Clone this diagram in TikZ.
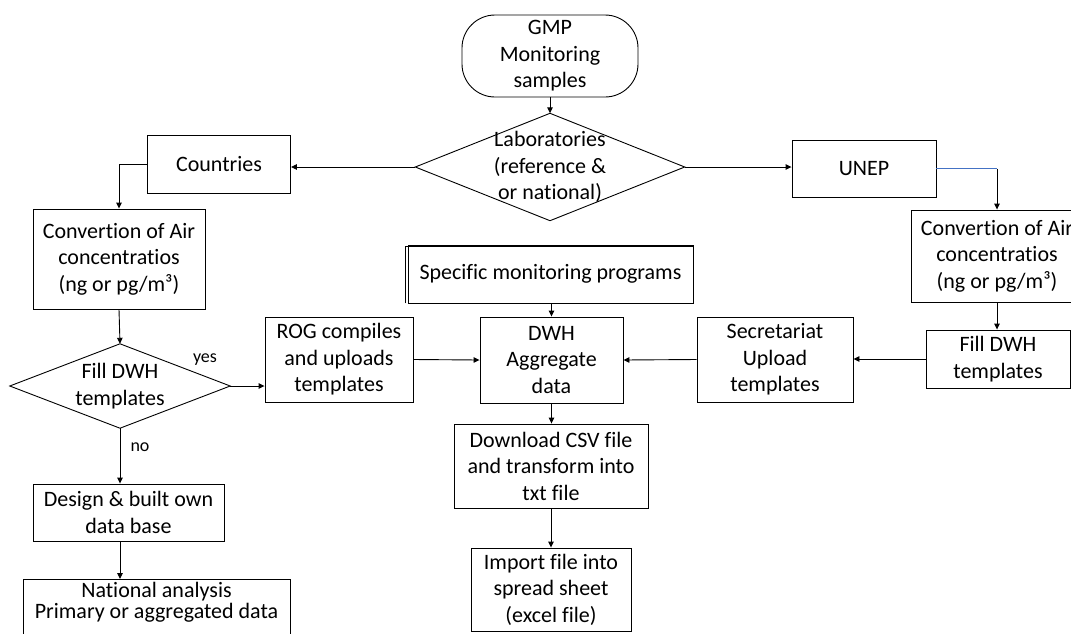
\documentclass[tikz,border=0pt]{standalone}
\usepackage{fontspec}
\setmainfont{Carlito}[RawFeature=-liga]
\usetikzlibrary{arrows.meta}
\begin{document}
\fontsize{22pt}{26.5pt}\selectfont
\begin{tikzpicture}[x=1pt,y=-1pt,
  box/.style={draw=black, line width=0.9pt, rectangle, inner sep=0pt, align=center},
  plain/.style={inner sep=0pt, align=center},
  arr/.style={draw=black, line width=0.9pt, -{Triangle[length=6pt,width=5.5pt]}},
  lbl/.style={inner sep=0pt, font=\fontsize{18pt}{20pt}\selectfont}]
\useasboundingbox (0,0) rectangle (1071,633);
\clip (0,0) rectangle (1071,633);

% start terminator
\node[box, rounded corners=33pt, minimum width=176pt, minimum height=82pt] (gmp) at (550,56) {GMP\\Monitoring\\samples};

% laboratory decision
\node[plain, minimum width=269pt, minimum height=107pt] (lab) at (550,167) {Laboratories\\(reference \&\\or national)};
\draw[line width=0.9pt] (lab.west) -- (lab.north) -- (lab.east) -- (lab.south) -- cycle;

% left branch
\node[box, minimum width=143pt, minimum height=58pt] (countries) at (219,164) {Countries};
\node[box, minimum width=172pt, minimum height=100pt] (convL) at (119,259) {Convertion of Air\\concentratios\\(ng or pg/m³)};
\node[plain, minimum width=220pt, minimum height=84pt] (fillL) at (120,386) {Fill DWH\\templates};
\draw[line width=0.9pt] (fillL.west) -- (fillL.north) -- (fillL.east) -- (fillL.south) -- cycle;
\node[box, minimum width=191pt, minimum height=57pt] (design) at (128.5,512.5) {Design \& built own\\data base};
\node[box, anchor=north, minimum width=267pt, inner sep=3pt, text depth=22pt, font=\fontsize{22pt}{21pt}\selectfont] (national) at (156.5,579) {National analysis\\Primary or aggregated data};

% middle column
\node[box, minimum width=148pt, minimum height=85pt] (rog) at (339,359.5) {ROG compiles\\and uploads\\templates};
\node[box, minimum width=285pt, minimum height=58pt] (spec) at (550.5,274) {Specific monitoring programs};
\draw[line width=0.9pt] ([xshift=-2pt]spec.south west) -- ([shift={(-2pt,-2pt)}]spec.north west) -- ([yshift=-2pt]spec.north east);
\node[box, minimum width=143pt, minimum height=86pt] (dwh) at (551.5,360) {DWH\\Aggregate\\data};
\node[box, minimum width=194pt, minimum height=84pt] (dl) at (551,466) {Download CSV file\\and transform into\\txt file};
\node[box, minimum width=160pt, minimum height=83pt] (imp) at (551,589.5) {Import file into\\spread sheet\\(excel file)};

% right branch
\node[box, minimum width=144pt, minimum height=57pt] (unep) at (864,168.5) {UNEP};
\node[box, minimum width=172pt, minimum height=92pt] (convR) at (997,256) {Convertion of Air\\concentratios\\(ng or pg/m³)};
\node[box, minimum width=144pt, minimum height=58pt] (fillR) at (998,359) {Fill DWH\\templates};
\node[box, minimum width=156pt, minimum height=85pt] (sec) at (775,359.5) {Secretariat\\Upload\\templates};

% connectors
\draw[arr] (gmp.south) -- (lab.north);
\draw[arr] (lab.west) -- (lab.west -| countries.east);
\draw[arr] (lab.east) -- (lab.east -| unep.west);
\draw[arr] (countries.west) -| (convL.north);
\draw[arr] (convL.south) -- (fillL.north);
\draw[arr] (fillL.east) -- (fillL.east -| rog.west);
\draw[arr] (fillL.south) -- (fillL.south |- design.north);
\draw[arr] (fillL.south |- design.south) -- (fillL.south |- national.north);
\draw[arr] (rog.east) -- (dwh.west);
\draw[arr] (spec.south -| dwh.north) -- (dwh.north);
\draw[arr] (sec.west) -- (dwh.east);
\draw[arr] (fillR.west) -- (fillR.west -| sec.east);
\coordinate (ucorner) at (convR.north |- unep.east);
\draw[line width=0.9pt, draw={rgb,255:red,68;green,114;blue,196}] (unep.east) -- (ucorner);
\draw[arr] (ucorner) -- (convR.north);
\draw[arr] (convR.south) -- (convR.south |- fillR.north);
\draw[arr] (dwh.south) -- (dwh.south |- dl.north);
\draw[arr] (dl.south) -- (dl.south |- imp.north);

% branch labels
\node[lbl] (yes) at (205,360) {yes};
\node[lbl] (no) at (140,447) {no};
\end{tikzpicture}
\end{document}
